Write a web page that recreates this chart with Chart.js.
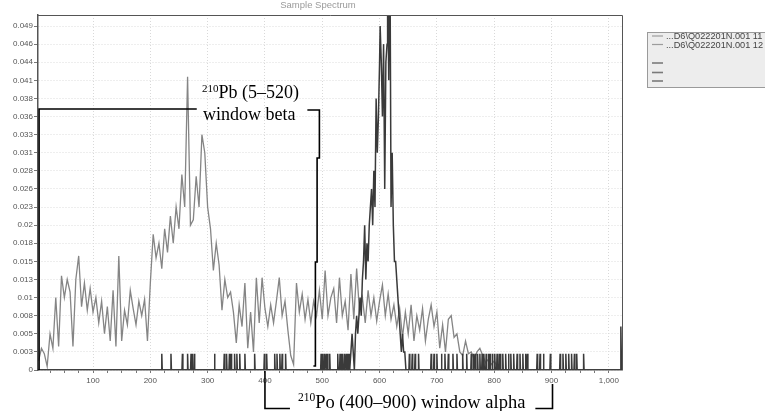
<!DOCTYPE html>
<html><head><meta charset="utf-8">
<script src="https://cdn.jsdelivr.net/npm/chart.js@4.4.0/dist/chart.umd.min.js"></script>
<style>html,body{margin:0;padding:0;background:#fff;}canvas{display:block}</style>
</head><body>
<canvas id="c" width="765" height="411"></canvas>
<script>
// ---------- data ----------
const UNIT = 0.00256;            // value of one count on the y axis
const yTickLabels = ['0','0.003','0.005','0.008','0.01','0.013','0.015','0.018','0.02','0.023','0.026','0.028','0.031','0.033','0.036','0.038','0.041','0.044','0.046','0.049'];
const xTickLabels = ['100','200','300','400','500','600','700','800','900','1,000'];
const seriesLabels = ['...D6\\Q022201N.001 11', '...D6\\Q022201N.001 12'];
const chartTitle = 'Sample Spectrum';

// series A (beta-like spectrum), counts per 5-channel bin starting at channel 5
const aStartCh = 5, aStepCh = 5;
const aCounts = [
  0.5,1.2,0.9,0.2,2.0,1.2,4.0,1.3,5.2,4.0,
  5.0,4.3,1.3,5.0,6.3,3.5,4.8,3.3,4.5,3.2,
  4.0,2.6,3.8,2.0,3.5,1.6,4.4,1.3,6.3,1.6,
  3.3,2.5,4.4,3.4,2.5,3.8,3.0,3.9,1.6,4.8,
  7.5,6.2,7.0,5.6,7.8,6.5,8.5,7.0,9.0,7.8,
  10.8,9.0,16.2,8.0,8.3,10.7,9.0,13.0,12.0,9.0,
  7.8,5.5,7.0,5.8,3.3,5.0,4.0,4.3,3.2,1.5,
  3.6,2.4,4.8,1.2,3.2,1.0,5.1,2.6,5.1,3.4,
  2.4,3.6,2.6,3.8,5.1,3.0,3.8,2.2,0.8,0.3,
  4.8,3.2,4.2,2.8,3.9,2.6,3.8,3.0,4.4,2.8,
  5.5,3.0,4.0,4.5,2.6,5.1,3.0,3.8,2.2,5.3,
  2.8,5.6,3.2,4.0,2.6,4.4,3.0,4.0,2.7,3.8,
  4.7,3.0,4.2,2.8,3.6,2.4,3.4,1.8,3.2,2.0,
  3.6,1.6,3.0,2.2,3.4,1.6,2.8,3.6,2.4,3.2,
  1.2,2.5,1.0,2.8,3.0,1.8,2.0,1.0,0.8,1.6,
  0.9,1.0,0.6,1.0,1.2,0.8,0.4,0.6,0.3,0.5,
  0.2,0
];

// series B (alpha-like spectrum): isolated single counts ...
const bSpikeCh = [220,236,256,265,271,274,277,312,329,333,338,341,347,351,356,365,382,399,403,417,421,426,430,436,
  498,501,504,507,509,513,527,531,534,536,539,542,544,547,
  652,657,662,668,690,695,700,708,714,720,728,735,745,752,760,764,767,771,775,779,782,786,790,793,797,801,805,809,
  811,815,820,825,829,834,840,845,850,855,858,875,880,886,898,915,920,925,930,935,940,944,956];
const bSpikeCount = 0.9;
// ... the alpha peak ...
const bPeakCh     = [548,550,552,554,556,558,560,562,564,566,568,570,572,574,576,578,580,582,584,586,588,590,592,594,596,598,600,601,603,605,607,609,611,613,614,616,618,620,622,624,626,628,630,632,634,636,638,640,642,644,646];
const bPeakCounts = [0,  1,  2,  1,  0,  2,  3,  2,  3,  4,  3,  5,  6,  8,  5,  7,  6,  8,  9, 10,  8, 11,  9, 15, 12, 14, 17, 19, 17, 14, 18, 10, 17, 18, 23, 16, 24,  9, 12,  8,  6,  6,  5,  4,  3,  2,  1,  2,  1,  1,  0];
// ... and the last channel
const bLastCh = 1021, bLastCount = 2.4;

// ---------- build datasets ----------
const aData = aCounts.map((c, i) => ({x: aStartCh + i * aStepCh, y: c * UNIT}));
const bData = [{x: 4, y: 0}, {x: 1023, y: 0}];
bSpikeCh.forEach(ch => bData.push({x: ch - 0.8, y: 0}, {x: ch, y: bSpikeCount * UNIT}, {x: ch + 0.8, y: 0}));
bPeakCh.forEach((ch, i) => bData.push({x: ch, y: bPeakCounts[i] * UNIT}));
bData.push({x: bLastCh - 1.2, y: 0}, {x: bLastCh, y: bLastCount * UNIT}, {x: bLastCh + 1.2, y: 0});
bData.sort((p, q) => p.x - q.x);

const xTickVals = [];
for (let v = 25; v <= 1000; v += 25) xTickVals.push(v);

const SANS = '"Liberation Sans", Arial, sans-serif';
const SERIF = '"Liberation Serif", "Times New Roman", serif';

// ---------- decorations ----------
const deco = {
  id: 'deco',
  afterDraw(chart) {
    const {ctx, chartArea: a, scales: {x, y}} = chart;
    ctx.save();
    // frame (top / right)
    ctx.strokeStyle = '#555'; ctx.lineWidth = 1;
    ctx.beginPath();
    ctx.moveTo(a.left, a.top + 0.5); ctx.lineTo(a.right + 0.5, a.top + 0.5); ctx.lineTo(a.right + 0.5, a.bottom);
    ctx.stroke();

    // faint title (cut at the top of the picture)
    ctx.fillStyle = '#9a9a9a'; ctx.font = '9.5px ' + SANS;
    ctx.textAlign = 'center'; ctx.textBaseline = 'alphabetic';
    ctx.fillText(chartTitle, 318, 8);

    // legend box
    ctx.fillStyle = '#ededed'; ctx.strokeStyle = '#9a9a9a'; ctx.lineWidth = 1;
    ctx.fillRect(647.5, 32.5, 130, 55); ctx.strokeRect(647.5, 32.5, 130, 55);
    const rows = [36, 44.5, 63, 72.5, 81];
    rows.forEach((ry, i) => {
      ctx.strokeStyle = i < 2 ? '#9c9c9c' : '#7a7a7a';
      ctx.lineWidth = i < 2 ? 1.2 : 1.6;
      ctx.beginPath(); ctx.moveTo(652, ry); ctx.lineTo(663, ry); ctx.stroke();
    });
    ctx.fillStyle = '#444'; ctx.font = '9.2px ' + SANS; ctx.textAlign = 'left'; ctx.textBaseline = 'middle';
    ctx.fillText(seriesLabels[0], 666, rows[0] + 0.5);
    ctx.fillText(seriesLabels[1], 666, rows[1] + 0.5);

    // ----- 210Pb bracket -----
    ctx.strokeStyle = '#000'; ctx.lineWidth = 1.6;
    const pbLevel = y.getPixelForValue(0.0369);
    const y0 = y.getPixelForValue(0);
    const xl = x.getPixelForValue(5) + 0.5;
    ctx.beginPath();
    ctx.moveTo(xl, y0); ctx.lineTo(xl, pbLevel); ctx.lineTo(x.getPixelForValue(281), pbLevel);
    ctx.stroke();
    const xr = x.getPixelForValue(495);
    ctx.beginPath();
    ctx.moveTo(x.getPixelForValue(474), pbLevel + 1); ctx.lineTo(xr, pbLevel + 1);
    ctx.lineTo(xr, 158); ctx.lineTo(xr - 2.3, 158); ctx.lineTo(xr - 2.3, 262); ctx.lineTo(xr - 4, 262);
    ctx.lineTo(xr - 4, y0 - 4); ctx.lineTo(xr - 6, y0 - 4);
    ctx.stroke();

    ctx.fillStyle = '#000'; ctx.textAlign = 'left'; ctx.textBaseline = 'alphabetic';
    const tx = x.getPixelForValue(290);
    ctx.font = '11px ' + SERIF; ctx.fillText('210', tx, 92);
    const sw = ctx.measureText('210').width;
    ctx.font = '18px ' + SERIF; ctx.fillText('Pb (5\u2013520)', tx + sw, 98);
    ctx.fillText('window beta', tx + 1, 120);

    // ----- 210Po bracket -----
    const px400 = x.getPixelForValue(400), px900 = x.getPixelForValue(900);
    const by = 408.5;
    const t2x = px400 + 33;
    ctx.font = '11.5px ' + SERIF; ctx.fillText('210', t2x, 401);
    const sw2 = ctx.measureText('210').width;
    ctx.font = '18.5px ' + SERIF;
    const body = 'Po (400\u2013900) window alpha';
    ctx.fillText(body, t2x + sw2, 408);
    const tEnd = t2x + sw2 + ctx.measureText(body).width;
    ctx.beginPath();
    ctx.moveTo(px400, a.bottom + 1); ctx.lineTo(px400, by); ctx.lineTo(t2x - 8, by);
    ctx.moveTo(tEnd + 10, by); ctx.lineTo(px900 + 1, by); ctx.lineTo(px900 + 1, 384);
    ctx.stroke();
    ctx.restore();
  }
};

new Chart(document.getElementById('c'), {
  type: 'line',
  data: {
    datasets: [
      {label: seriesLabels[1], data: bData, borderColor: '#3a3a3a', borderWidth: 1.5, pointRadius: 0, tension: 0, order: 0},
      {label: seriesLabels[0], data: aData, borderColor: '#858585', borderWidth: 1.3, pointRadius: 0, tension: 0, order: 1}
    ]
  },
  options: {
    responsive: false, animation: false, devicePixelRatio: 1,
    layout: {padding: {left: 0, right: 143, top: 15, bottom: 0}},
    plugins: {legend: {display: false}, tooltip: {enabled: false}, title: {display: false}},
    scales: {
      x: {
        type: 'linear', min: 4, max: 1023, bounds: 'data',
        afterBuildTicks: s => { s.ticks = xTickVals.map(v => ({value: v})); },
        afterFit: s => { s.height = 41; },
        ticks: {
          autoSkip: false, maxRotation: 0, minRotation: 0, padding: 3,
          font: {family: SANS, size: 8}, color: '#555',
          callback: v => (v % 100 === 0 ? xTickLabels[v / 100 - 1] : '')
        },
        grid: {
          color: c => (c.tick && c.tick.value % 100 === 0) ? '#d9d9d9' : 'rgba(0,0,0,0)',
          tickColor: '#777', tickLength: 3, lineWidth: 1
        },
        border: {color: '#555', width: 1.5, dash: [1, 2]}
      },
      y: {
        type: 'linear', min: 0, max: 0.0502, bounds: 'data',
        afterBuildTicks: s => { s.ticks = yTickLabels.map((_, i) => ({value: i * UNIT})); },
        afterFit: s => { s.width = 38; },
        ticks: {padding: 1, font: {family: SANS, size: 8}, color: '#555', callback: (v, i) => yTickLabels[i]},
        grid: {color: '#dcdcdc', tickColor: '#777', tickLength: 4, lineWidth: 1},
        border: {color: '#555', width: 1.5, dash: [1, 2]}
      }
    }
  },
  plugins: [deco]
});
</script>
</body></html>
